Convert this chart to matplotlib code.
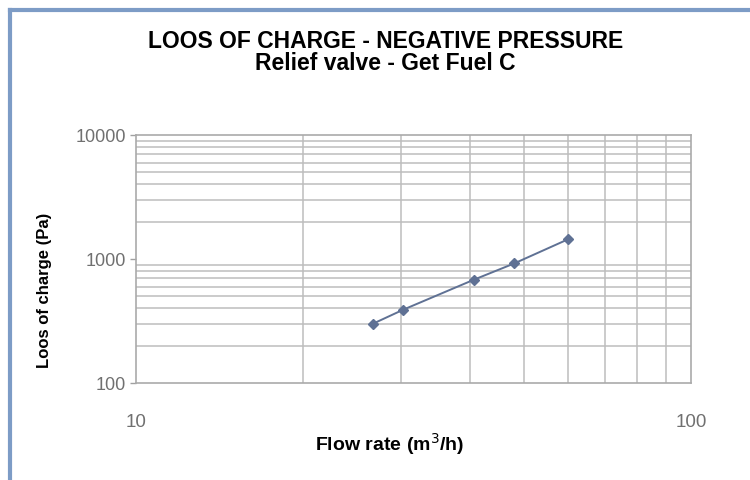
import matplotlib
matplotlib.use("Agg")
import matplotlib.pyplot as plt
from matplotlib.lines import Line2D
from matplotlib.ticker import FixedLocator, NullFormatter

plt.rcParams['font.family'] = ['Liberation Sans', 'DejaVu Sans']

# values
flow_rate = [26.7, 30.3, 40.6, 48.0, 60.0]          # m3/h
pressure_loss = [300, 390, 680, 920, 1440]          # Pa

x_major = [10, 100]
y_major = [100, 1000, 10000]
x_minor = [20, 30, 40, 50, 60, 70, 80, 90]
y_minor = [200, 300, 400, 500, 600, 700, 800, 900,
           2000, 3000, 4000, 5000, 6000, 7000, 8000, 9000]

fig = plt.figure(figsize=(7.5, 4.8), dpi=100)
ax = fig.add_axes([136 / 750, 1 - 383 / 480, 555 / 750, 248 / 480])

ax.set_xscale('log')
ax.set_yscale('log')
ax.set_xlim(10, 100)
ax.set_ylim(100, 10000)

grid_col = '#bdbdbd'
for v in x_minor:
    ax.axvline(v, color=grid_col, lw=1.1, zorder=1)
for v in y_minor:
    ax.axhline(v, color=grid_col, lw=1.1, zorder=1)

ax.plot(flow_rate, pressure_loss, color='#5f7194', lw=1.4,
        marker='D', markersize=5, zorder=3)

ax.xaxis.set_major_locator(FixedLocator(x_major))
ax.yaxis.set_major_locator(FixedLocator(y_major))
ax.xaxis.set_minor_formatter(NullFormatter())
ax.yaxis.set_minor_formatter(NullFormatter())
ax.set_xticklabels([str(v) for v in x_major])
ax.set_yticklabels([str(v) for v in y_major])
ax.tick_params(which='minor', length=0)
ax.tick_params(axis='x', which='major', length=0, pad=22,
               labelsize=13.5, labelcolor='#707070')
ax.tick_params(axis='y', which='major', length=4, width=1, color='#a0a0a0',
               pad=3, labelsize=13, labelcolor='#707070')
for s in ax.spines.values():
    s.set_color('#aaaaaa')
    s.set_linewidth(1.2)

# axis titles placed where the reference has them
fig.text(390 / 750, 1 - 444 / 480, 'Flow rate (m$^3$/h)', ha='center',
         va='center', fontsize=14, fontweight='bold')
fig.text(45 / 750, 1 - 290 / 480, 'Loos of charge (Pa)', ha='center',
         va='center', rotation=90, fontsize=12, fontweight='bold')

fig.text(0.514, 1 - 48.5 / 480, 'LOOS OF CHARGE - NEGATIVE PRESSURE',
         ha='center', va='baseline', fontsize=16.5, fontweight='bold')
fig.text(0.514, 1 - 70 / 480, 'Relief valve - Get Fuel C', ha='center',
         va='baseline', fontsize=16.5, fontweight='bold')

# blue frame on the top and left edges
border = '#7d9cc6'
fig.add_artist(Line2D([10 / 750, 1], [1 - 10 / 480, 1 - 10 / 480],
                      transform=fig.transFigure, color=border, lw=3))
fig.add_artist(Line2D([10 / 750, 10 / 750], [0, 1 - 10 / 480],
                      transform=fig.transFigure, color=border, lw=3))

fig.savefig('out.png', dpi=100)
